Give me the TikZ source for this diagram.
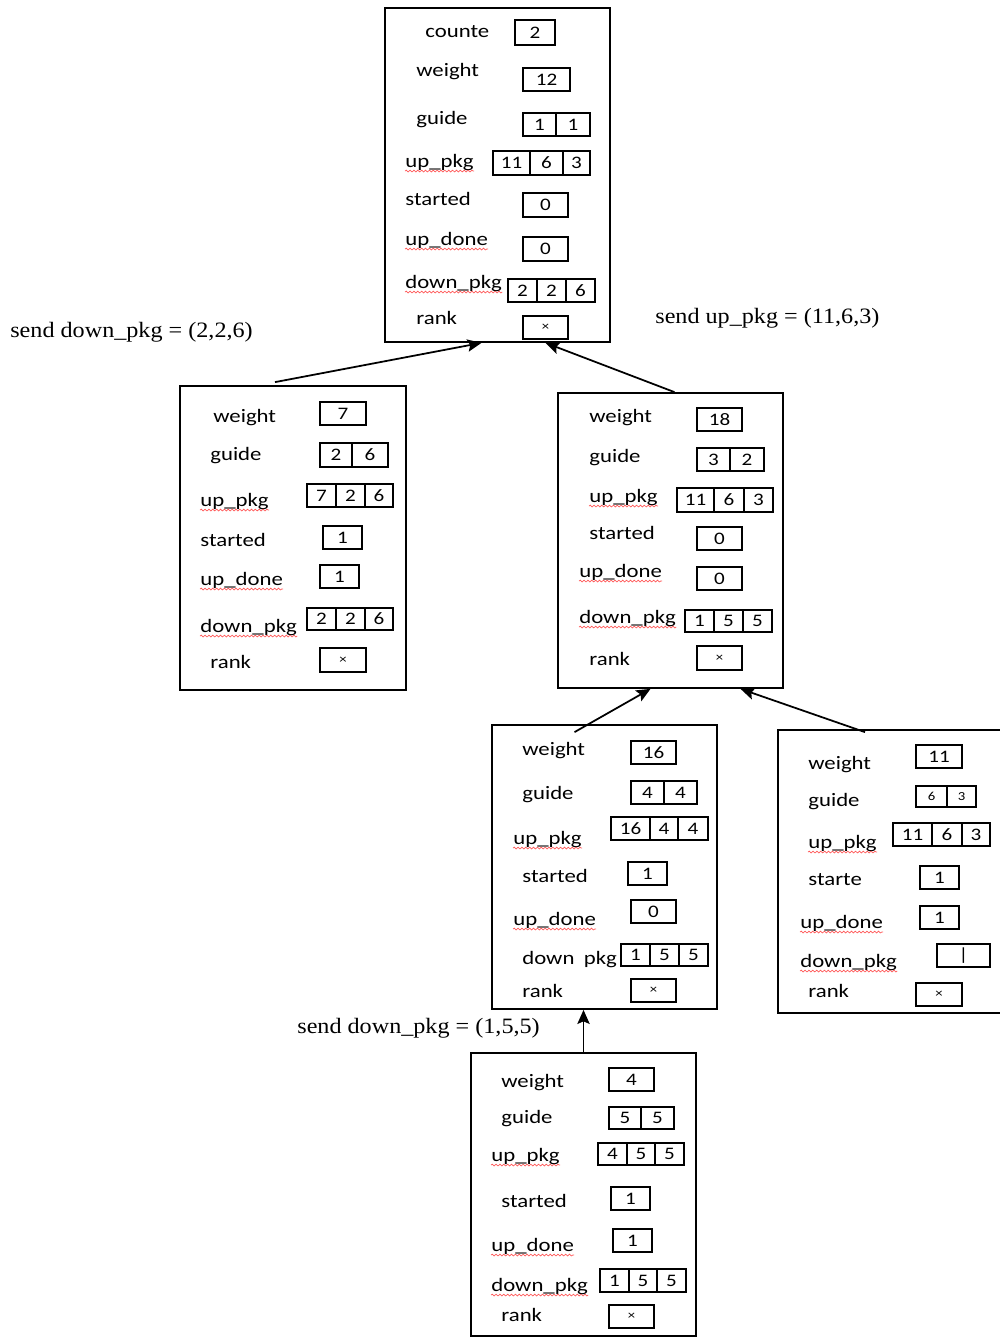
\documentclass[tikz,border=0pt]{standalone}
\usepackage{fontspec}
\newfontfamily\fieldfont[FakeStretch=1.2]{Carlito}
\newfontfamily\sendfont[FakeStretch=1.1]{Liberation Serif}
\usepackage{tikz}
\usetikzlibrary{arrows.meta, positioning, fit, calc, decorations.pathmorphing}
\tikzset{>={Stealth[length=8pt,width=7pt,inset=1.5pt]}}

\begin{document}
\begin{tikzpicture}[
  x=0.02cm, y=-0.02cm,
  rec/.style={draw, line width=1pt, inner sep=0pt},
  field/.style={anchor=west, inner sep=0pt, text height=1.9ex, text depth=.4ex,
    font=\fieldfont\fontsize{10.8}{12}\selectfont},
  num/.style={inner sep=0pt, font=\fieldfont\fontsize{10}{11}\selectfont},
  cell/.style={draw, line width=0.8pt, inner sep=0pt, label={[num]center:#1}},
  send/.style={anchor=west, inner sep=0pt, font=\sendfont\fontsize{12.5}{14}\selectfont},
  link/.style={->, line width=1pt},
  spell/.style={draw=red!65, line width=0.4pt, decorate,
    decoration={snake, amplitude=0.5pt, segment length=2.2pt}}
]
  \useasboundingbox (0,0) rectangle (1000,1338);

  % Root record
  \node[rec, fit={(385,8) (610,342)}] (ta) {};
  \node[field] (ta1) at (425,32) {counte};
  \node[field] (ta2) at (416,71) {weight};
  \node[field] (ta3) at (416,119) {guide};
  \node[field] (ta4) at (405,162) {up\_pkg};
  \node[field] (ta5) at (405,200) {started};
  \node[field] (ta6) at (405,240) {up\_done};
  \node[field] (ta7) at (405,283) {down\_pkg};
  \node[field] (ta8) at (416,319) {rank};
  \node[cell={2}, fit={(515,20) (555,45)}] (ta-cn) {};
  \node[cell={12}, fit={(523,68) (570,91)}] (ta-w) {};
  \node[cell={1}, fit={(523,113) (556,136)}] (ta-g1) {};
  \node[cell={1}, fit={(556,113) (590,136)}] (ta-g2) {};
  \node[cell={11}, fit={(493,151) (530,175)}] (ta-u1) {};
  \node[cell={6}, fit={(530,151) (563,175)}] (ta-u2) {};
  \node[cell={3}, fit={(563,151) (590,175)}] (ta-u3) {};
  \node[cell={0}, fit={(523,193) (568,217)}] (ta-s) {};
  \node[cell={0}, fit={(523,237) (568,261)}] (ta-ud) {};
  \node[cell={2}, fit={(508,279) (537,302)}] (ta-d1) {};
  \node[cell={2}, fit={(537,279) (566,302)}] (ta-d2) {};
  \node[cell={6}, fit={(566,279) (595,302)}] (ta-d3) {};
  \node[cell={\scriptsize ×}, fit={(523,316) (568,339)}] (ta-r) {};

  % Left child
  \node[rec, fit={(180,386) (406,690)}] (lb) {};
  \node[field] (lb1) at (213,417) {weight};
  \node[field] (lb2) at (210,455) {guide};
  \node[field] (lb3) at (200,501) {up\_pkg};
  \node[field] (lb4) at (200,541) {started};
  \node[field] (lb5) at (200,580) {up\_done};
  \node[field] (lb6) at (200,627) {down\_pkg};
  \node[field] (lb7) at (210,663) {rank};
  \node[cell={7}, fit={(320,402) (366,425)}] (lb-w) {};
  \node[cell={2}, fit={(320,443) (352,467)}] (lb-g1) {};
  \node[cell={6}, fit={(352,443) (388,467)}] (lb-g2) {};
  \node[cell={7}, fit={(307,484) (336,507)}] (lb-u1) {};
  \node[cell={2}, fit={(336,484) (365,507)}] (lb-u2) {};
  \node[cell={6}, fit={(365,484) (393,507)}] (lb-u3) {};
  \node[cell={1}, fit={(323,526) (362,549)}] (lb-s) {};
  \node[cell={1}, fit={(320,565) (359,588)}] (lb-ud) {};
  \node[cell={2}, fit={(307,608) (336,630)}] (lb-d1) {};
  \node[cell={2}, fit={(336,608) (365,630)}] (lb-d2) {};
  \node[cell={6}, fit={(365,608) (393,630)}] (lb-d3) {};
  \node[cell={\scriptsize ×}, fit={(320,648) (366,672)}] (lb-r) {};

  % Right child
  \node[rec, fit={(558,393) (783,688)}] (rc) {};
  \node[field] (rc1) at (589,417) {weight};
  \node[field] (rc2) at (589,457) {guide};
  \node[field] (rc3) at (589,497) {up\_pkg};
  \node[field] (rc4) at (589,534) {started};
  \node[field] (rc5) at (579,572) {up\_done};
  \node[field] (rc6) at (579,618) {down\_pkg};
  \node[field] (rc7) at (589,660) {rank};
  \node[cell={18}, fit={(697,408) (742,431)}] (rc-w) {};
  \node[cell={3}, fit={(697,448) (730,471)}] (rc-g1) {};
  \node[cell={2}, fit={(730,448) (764,471)}] (rc-g2) {};
  \node[cell={11}, fit={(677,488) (714,512)}] (rc-u1) {};
  \node[cell={6}, fit={(714,488) (744,512)}] (rc-u2) {};
  \node[cell={3}, fit={(744,488) (773,512)}] (rc-u3) {};
  \node[cell={0}, fit={(697,527) (742,550)}] (rc-s) {};
  \node[cell={0}, fit={(697,567) (742,590)}] (rc-ud) {};
  \node[cell={1}, fit={(685,610) (714,632)}] (rc-d1) {};
  \node[cell={5}, fit={(714,610) (743,632)}] (rc-d2) {};
  \node[cell={5}, fit={(743,610) (772,632)}] (rc-d3) {};
  \node[cell={\scriptsize ×}, fit={(697,646) (742,670)}] (rc-r) {};

  % Grandchild (middle)
  \node[rec, fit={(492,725) (717,1009)}] (md) {};
  \node[field] (md1) at (522,750) {weight};
  \node[field] (md2) at (522,794) {guide};
  \node[field] (md3) at (513,839) {up\_pkg};
  \node[field] (md4) at (522,877) {started};
  \node[field] (md5) at (513,920) {up\_done};
  \node[field] (md6) at (522,959) {down\enspace pkg};
  \node[field] (md7) at (522,992) {rank};
  \node[cell={16}, fit={(631,741) (676,764)}] (md-w) {};
  \node[cell={4}, fit={(631,781) (664,804)}] (md-g1) {};
  \node[cell={4}, fit={(664,781) (697,804)}] (md-g2) {};
  \node[cell={16}, fit={(611,817) (650,840)}] (md-u1) {};
  \node[cell={4}, fit={(650,817) (678,840)}] (md-u2) {};
  \node[cell={4}, fit={(678,817) (708,840)}] (md-u3) {};
  \node[cell={1}, fit={(628,862) (667,885)}] (md-s) {};
  \node[cell={0}, fit={(631,900) (676,923)}] (md-ud) {};
  \node[cell={1}, fit={(621,944) (650,966)}] (md-d1) {};
  \node[cell={5}, fit={(650,944) (679,966)}] (md-d2) {};
  \node[cell={5}, fit={(679,944) (708,966)}] (md-d3) {};
  \node[cell={\scriptsize ×}, fit={(631,979) (676,1002)}] (md-r) {};

  % Grandchild (right, cut by the page edge)
  \node[rec, fit={(778,730) (1006,1013)}] (rd) {};
  \node[field] (rd1) at (808,764) {weight};
  \node[field] (rd2) at (808,801) {guide};
  \node[field] (rd3) at (808,843) {up\_pkg};
  \node[field] (rd4) at (808,880) {starte};
  \node[field] (rd5) at (800,923) {up\_done};
  \node[field] (rd6) at (800,962) {down\_pkg};
  \node[field] (rd7) at (808,992) {rank};
  \node[cell={11}, fit={(916,745) (962,768)}] (rd-w) {};
  \node[cell={\scriptsize 6}, fit={(916,786) (947,807)}] (rd-g1) {};
  \node[cell={\scriptsize 3}, fit={(947,786) (976,807)}] (rd-g2) {};
  \node[cell={11}, fit={(893,823) (932,846)}] (rd-u1) {};
  \node[cell={6}, fit={(932,823) (962,846)}] (rd-u2) {};
  \node[cell={3}, fit={(962,823) (990,846)}] (rd-u3) {};
  \node[cell={1}, fit={(920,866) (959,889)}] (rd-s) {};
  \node[cell={1}, fit={(920,906) (959,929)}] (rd-ud) {};
  \node[cell={|}, fit={(937,944) (990,967)}] (rd-d) {};
  \node[cell={\scriptsize ×}, fit={(916,983) (962,1006)}] (rd-r) {};

  % Leaf
  \node[rec, fit={(471,1053) (696,1336)}] (bt) {};
  \node[field] (bt1) at (501,1082) {weight};
  \node[field] (bt2) at (501,1118) {guide};
  \node[field] (bt3) at (491,1156) {up\_pkg};
  \node[field] (bt4) at (501,1202) {started};
  \node[field] (bt5) at (491,1246) {up\_done};
  \node[field] (bt6) at (491,1286) {down\_pkg};
  \node[field] (bt7) at (501,1316) {rank};
  \node[cell={4}, fit={(609,1068) (654,1091)}] (bt-w) {};
  \node[cell={5}, fit={(609,1107) (641,1129)}] (bt-g1) {};
  \node[cell={5}, fit={(641,1107) (674,1129)}] (bt-g2) {};
  \node[cell={4}, fit={(598,1143) (627,1165)}] (bt-u1) {};
  \node[cell={5}, fit={(627,1143) (655,1165)}] (bt-u2) {};
  \node[cell={5}, fit={(655,1143) (684,1165)}] (bt-u3) {};
  \node[cell={1}, fit={(611,1187) (650,1210)}] (bt-s) {};
  \node[cell={1}, fit={(613,1229) (652,1252)}] (bt-ud) {};
  \node[cell={1}, fit={(600,1269) (629,1292)}] (bt-d1) {};
  \node[cell={5}, fit={(629,1269) (657,1292)}] (bt-d2) {};
  \node[cell={5}, fit={(657,1269) (686,1292)}] (bt-d3) {};
  \node[cell={\scriptsize ×}, fit={(609,1305) (654,1328)}] (bt-r) {};

  % Messages
  \node[send] (m1) at (10,332) {send down\_pkg = (2,2,6)};
  \node[send] (m2) at (655,318) {send up\_pkg = (11,6,3)};
  \node[send] (m3) at (297,1028) {send down\_pkg = (1,5,5)};

  % Links to parents
  \draw[link] ($(lb.north)+(-18,-3)$) -- ($(ta.south)+(-16,0)$);
  \draw[link] ($(rc.north)+(4,0)$) -- ($(ta.south)+(48,0)$);
  \draw[link] ($(md.north)+(-30,8)$) -- ($(rc.south)+(-20,0)$);
  \draw[link] ($(rd.north)+(-27,3)$) -- ($(rc.south)+(70,0)$);
  \draw[link] (bt.north) -- (bt.north |- md.south);

  % spell-check marks
  \foreach \n in {ta4,ta6,ta7,lb3,lb5,lb6,rc3,rc5,rc6,md3,md5,rd3,rd5,rd6,bt3,bt5,bt6}
    \draw[spell] (\n.south west) -- (\n.south east);
\end{tikzpicture}
\end{document}
